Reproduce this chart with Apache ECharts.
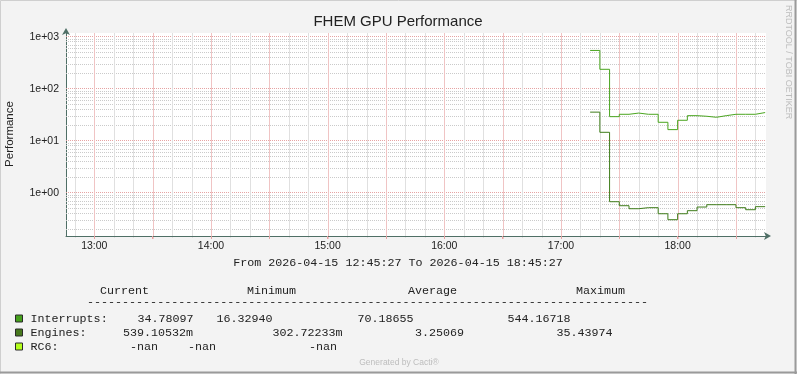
<!DOCTYPE html>
<html>
<head>
<meta charset="utf-8">
<script src="https://cdn.jsdelivr.net/npm/echarts@6/dist/echarts.min.js"></script>
<style>
html,body{margin:0;padding:0;background:#f3f3f3;}
#c{width:797px;height:374px;}
</style>
</head>
<body>
<div id="c"></div>
<script>
// ---- data ----
const binStarts = ['17:15','17:20','17:25','17:30','17:35','17:40','17:45','17:50','17:55',
                   '18:00','18:05','18:10','18:15','18:20','18:25','18:30','18:35','18:40'];
const interrupts = [544.17, 236, 29, 32.2, 34.0, 32.2, 32.2, 22.6, 16.33,
                    24.7, 30.3, 29.5, 28.2, 30.3, 32.2, 32.2, 32.2, 34.78];
const engines = [35.44, 14.5, 0.671, 0.562, 0.492, 0.515, 0.515, 0.394, 0.3027,
                 0.394, 0.451, 0.53, 0.588, 0.588, 0.588, 0.515, 0.471, 0.539];
const yTickValues = [1, 10, 100, 1000];
const yTickLabels = ['1e+00', '1e+01', '1e+02', '1e+03'];
const xLabelTimes = ['13:00', '14:00', '15:00', '16:00', '17:00', '18:00'];
const rangeStart = '12:45:27';
const rangeEnd = '18:45:27';
const legendNames = ['Interrupts:', 'Engines:', 'RC6:'];
const legendColors = ['#45a01c', '#47781d', '#b4ff1c'];
const statCurrent = ['34.78097', '539.10532m', '-nan'];
const statMinimum = ['16.32940', '302.72233m', '-nan'];
const statAverage = ['70.18655', '3.25069', '-nan'];
const statMaximum = ['544.16718', '35.43974', ''];

// ---- helpers ----
function toMin(s) { const p = s.split(':').map(Number); return (p[0] - 12) * 60 + p[1] + (p[2] || 0) / 60; }
function fmtMin(m) { const h = 12 + Math.floor(m / 60), mm = Math.round(m % 60); return h + ':' + String(mm).padStart(2, '0'); }
const X_MIN = toMin(rangeStart), X_MAX = toMin(rangeEnd);
const Y_MIN = 0.147, Y_MAX = 1178;
const G = { left: 66, top: 33, width: 700, height: 203 };

function stepData(vals) {
  const d = binStarts.map((t, i) => [toMin(t), vals[i]]);
  d.push([toMin(binStarts[binStarts.length - 1]) + 5, vals[vals.length - 1]]);
  return d;
}

const MAJOR = '#e6a3a3', MINOR = '#cacaca', AXIS = '#4f6f66';
const VMAJOR = '#f0c4c4', VMINOR = '#e0e0e0';
// vertical grid: every 10 min, red every 30 min
const vGrid = [];
for (let m = 50; m <= 400; m += 10) vGrid.push([m, 1, m % 30 === 0 ? 1 : 0]);

const gridLines = [];
// horizontal minor 2..9 per decade
[0.1, 1, 10, 100].forEach(dec => {
  for (let k = 2; k <= 9; k++) {
    const v = dec * k;
    if (v > Y_MIN && v < Y_MAX) gridLines.push({ yAxis: v, lineStyle: { color: MINOR, type: 'dotted', width: 1 }, label: { show: false } });
  }
});
yTickValues.forEach((v, i) => {
  gridLines.push({ yAxis: v, lineStyle: { color: MAJOR, type: 'dotted', width: 1 },
    label: { show: true, position: 'start', distance: 7, formatter: yTickLabels[i],
      color: '#222', fontFamily: 'Liberation Sans', fontSize: 10.5 } });
});

const SANS = 'Liberation Sans', MONO = 'Liberation Mono';
const monoStyle = (x, y, text, extra) => ({ type: 'text', x: x, y: y,
  style: Object.assign({ text: text, font: '11.7px ' + MONO, fill: '#222', textVerticalAlign: 'middle' }, extra || {}) });

const graphics = [
  { type: 'rect', z: -100, shape: { x: G.left, y: G.top, width: G.width, height: G.height }, style: { fill: '#ffffff' } },
  // bevel border
  { type: 'line', shape: { x1: 0.5, y1: 0.5, x2: 796.5, y2: 0.5 }, style: { stroke: '#cfcfcf' } },
  { type: 'line', shape: { x1: 0.5, y1: 0.5, x2: 0.5, y2: 373.5 }, style: { stroke: '#cfcfcf' } },
  { type: 'line', shape: { x1: 795.5, y1: 0, x2: 795.5, y2: 374 }, style: { stroke: '#9a9a9a', lineWidth: 2 } },
  { type: 'line', shape: { x1: 0, y1: 372.5, x2: 797, y2: 372.5 }, style: { stroke: '#9a9a9a', lineWidth: 2 } },
  { type: 'text', x: 398, y: 22, style: { text: 'FHEM GPU Performance', font: '15px ' + SANS, fill: '#222', textAlign: 'center', textVerticalAlign: 'middle' } },
  { type: 'text', x: 10, y: 134, rotation: Math.PI / 2, style: { text: 'Performance', font: '11.5px ' + SANS, fill: '#222', textAlign: 'center', textVerticalAlign: 'middle' } },
  { type: 'text', x: 788, y: 5, rotation: -Math.PI / 2, style: { text: 'RRDTOOL / TOBI OETIKER', font: '9px ' + SANS, fill: '#bdbdbd', textAlign: 'left', textVerticalAlign: 'middle' } },
  monoStyle(398, 263, 'From 2026-04-15 ' + rangeStart + ' To 2026-04-15 ' + rangeEnd, { textAlign: 'center' }),
  monoStyle(100, 291, 'Current'),
  monoStyle(247, 291, 'Minimum'),
  monoStyle(408, 291, 'Average'),
  monoStyle(576, 291, 'Maximum'),
  monoStyle(87, 302, '-'.repeat(80)),
  { type: 'text', x: 399, y: 363, style: { text: 'Generated by Cacti\u00ae', font: '8.5px ' + SANS, fill: '#bdbdbd', textAlign: 'center', textVerticalAlign: 'middle' } }
];
const rowY = [319, 333, 347];
const colX = { cur: [137.5, 123, 130], min: [216.5, 272.5, 188], avg: [357.5, 415, 309], max: [507.5, 556.5, 435] };
legendNames.forEach((n, i) => {
  graphics.push({ type: 'rect', shape: { x: 15.5, y: rowY[i] - 4, width: 7, height: 7 }, style: { fill: legendColors[i], stroke: '#2a2a2a', lineWidth: 1 } });
  graphics.push(monoStyle(30.5, rowY[i], n));
  graphics.push(monoStyle(colX.cur[i], rowY[i], statCurrent[i]));
  graphics.push(monoStyle(colX.min[i], rowY[i], statMinimum[i]));
  graphics.push(monoStyle(colX.avg[i], rowY[i], statAverage[i]));
  if (statMaximum[i]) graphics.push(monoStyle(colX.max[i], rowY[i], statMaximum[i]));
});

const chart = echarts.init(document.getElementById('c'), null, { renderer: 'canvas' });
chart.setOption({
  animation: false,
  backgroundColor: '#f3f3f3',
  grid: { left: G.left, top: G.top, width: G.width, height: G.height, show: false },
  xAxis: {
    type: 'value', min: X_MIN, max: X_MAX, z: 3,
    axisLine: { show: true, lineStyle: { color: AXIS, width: 1 }, symbol: ['none', 'arrow'], symbolSize: [6, 7], symbolOffset: [0, 5] },
    axisTick: { show: true, length: 3, lineStyle: { color: MAJOR }, customValues: vGrid.filter(g => g[2]).map(g => g[0]) },
    axisLabel: { show: true, customValues: xLabelTimes.map(toMin), formatter: v => fmtMin(v), color: '#222', fontFamily: SANS, fontSize: 10.5, margin: 5 },
    splitLine: { show: false }
  },
  yAxis: {
    type: 'log', logBase: 10, min: Y_MIN, max: Y_MAX,
    axisLine: { show: true, lineStyle: { color: AXIS, width: 1 }, symbol: ['none', 'arrow'], symbolSize: [6, 7], symbolOffset: [0, 5] },
    axisTick: { show: false }, axisLabel: { show: false }, splitLine: { show: false }, minorSplitLine: { show: false }
  },
  graphic: graphics,
  series: [
    { type: 'custom', name: 'vgrid', data: vGrid, z: 1, silent: true, clip: false,
      encode: { x: 0, y: 1 },
      renderItem: function (params, api) {
        const x = api.value(0), major = api.value(2);
        const top = api.coord([x, Y_MAX]), bot = api.coord([x, Y_MIN]);
        const px = Math.round(top[0]) + 0.5;
        return { type: 'rect', shape: { x: px - 0.5, y: top[1], width: 1, height: bot[1] - top[1] + (major ? 3 : 2) },
          style: { fill: major ? VMAJOR : VMINOR } };
      } },
    { type: 'line', name: 'grid', data: [], z: 1, silent: true,
      markLine: { silent: true, symbol: ['none', 'none'], z: 1, animation: false, data: gridLines } },
    { type: 'line', name: 'Interrupts', step: 'end', data: stepData(interrupts), showSymbol: false, z: 3,
      lineStyle: { color: '#4aa51f', width: 1 }, itemStyle: { color: '#4aa51f' } },
    { type: 'line', name: 'Engines', step: 'end', data: stepData(engines), showSymbol: false, z: 3,
      lineStyle: { color: '#3f7d1b', width: 1 }, itemStyle: { color: '#3f7d1b' } }
  ]
});
</script>
</body>
</html>
